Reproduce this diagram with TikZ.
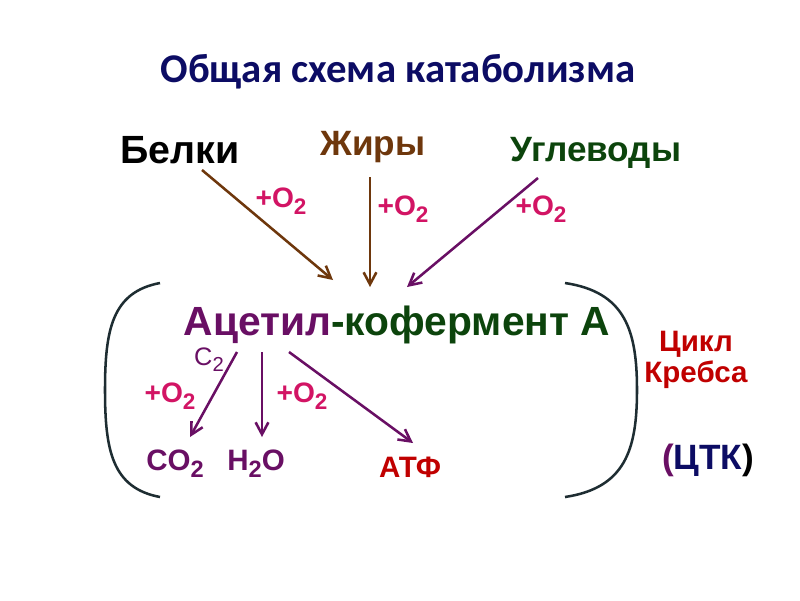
\documentclass[tikz,border=0pt]{standalone}
\usepackage{fontspec}
\usepackage{graphicx}
\setmainfont{Liberation Sans}
\newfontfamily\titlefont{Carlito}
\usetikzlibrary{arrows.meta}
\definecolor{titlenavy}{RGB}{12,12,100}
\definecolor{fatbrown}{RGB}{110,55,12}
\definecolor{carbgreen}{RGB}{12,68,12}
\definecolor{acetpurple}{RGB}{105,15,100}
\definecolor{oxmagenta}{RGB}{210,20,100}
\definecolor{krebsred}{RGB}{192,0,0}
\definecolor{bracketgray}{RGB}{30,45,50}
\newcommand{\chsub}[1]{\raisebox{-0.45ex}{\scalebox{0.8}{#1}}}
\tikzset{
  metarr/.style={-{Straight Barb[length=3mm,width=3.2mm]}, line width=1.8pt},
  oxlabel/.style={font=\fontsize{20}{22}\selectfont\bfseries, text=oxmagenta, inner sep=0pt},
  source/.style={font=\fontsize{25}{28}\selectfont\bfseries, inner sep=0pt},
  product/.style={font=\fontsize{21}{23}\selectfont\bfseries, text=acetpurple, inner sep=0pt},
}

\begin{document}
\begin{tikzpicture}[x=0.025cm, y=-0.025cm]
  \useasboundingbox (0,0) rectangle (800,600);

  \node[font=\titlefont\fontsize{29}{32}\selectfont\bfseries, text=titlenavy] (title) at (398,72) {Общая схема катаболизма};

  % sources
  \node[source, font=\fontsize{28}{30}\selectfont\bfseries, text=black] (belki) at (180,150) {Белки};
  \node[source, text=fatbrown] (zhiry) at (373,147) {Жиры};
  \node[source, text=carbgreen] (uglev) at (596,153) {Углеводы};

  \node[inner sep=0pt, font=\fontsize{29}{32}\selectfont\bfseries] (acetyl) at (397,325)
    {\textcolor{acetpurple}{Ацетил}\textcolor{carbgreen}{-кофермент А}};

  \coordinate (b1) at (202,170);  \coordinate (b2) at (333,280);
  \coordinate (z1) at (370,177);  \coordinate (z2) at (370,287);
  \coordinate (u1) at (538,178);  \coordinate (u2) at (407,287);
  \draw[metarr, draw=fatbrown] (b1) -- (b2);
  \draw[metarr, draw=fatbrown] (z1) -- (z2);
  \draw[metarr, draw=acetpurple] (u1) -- (u2);

  \node[oxlabel] (ox1) at (281,201) {+O\chsub{2}};
  \node[oxlabel] (ox2) at (403,209) {+O\chsub{2}};
  \node[oxlabel] (ox3) at (541,209) {+O\chsub{2}};

  % Krebs bracket
  \draw[bracketgray, line width=1.8pt] (160,283) .. controls (112,292) and (105,330) .. (105,390)
    .. controls (105,450) and (112,488) .. (160,497);
  \draw[bracketgray, line width=1.8pt] (565,283) .. controls (625,292) and (637,330) .. (637,390)
    .. controls (637,450) and (625,488) .. (565,497);

  \node[inner sep=0pt, font=\fontsize{18}{20}\selectfont, text=acetpurple] (ctwo) at (209,360) {C\chsub{2}};

  % products
  \node[product] (co2) at (175,464) {CO\chsub{2}};
  \node[product] (h2o) at (256,464) {H\chsub{2}O};
  \node[product, text=krebsred] (atf) at (410,467) {АТФ};

  \coordinate (a1) at (237,352);  \coordinate (a2) at (190,437);
  \coordinate (a3) at (262,352);  \coordinate (a4) at (262,437);
  \coordinate (a5) at (289,352);  \coordinate (a6) at (413,443);
  \draw[metarr, draw=acetpurple] (a1) -- (a2);
  \draw[metarr, draw=acetpurple] (a3) -- (a4);
  \draw[metarr, draw=acetpurple] (a5) -- (a6);

  \node[oxlabel] (ox4) at (170,396) {+O\chsub{2}};
  \node[oxlabel] (ox5) at (302,396) {+O\chsub{2}};

  \node[align=center, inner sep=0pt, font=\fontsize{21}{22}\selectfont\bfseries, text=krebsred] (krebs) at (696,360) {Цикл\\Кребса};
  \node[inner sep=0pt, font=\fontsize{25}{27}\selectfont\bfseries] (tca) at (708,460)
    {\textcolor{acetpurple}{(}\textcolor{titlenavy}{ЦТК}\textcolor{black}{)}};
\end{tikzpicture}
\end{document}
